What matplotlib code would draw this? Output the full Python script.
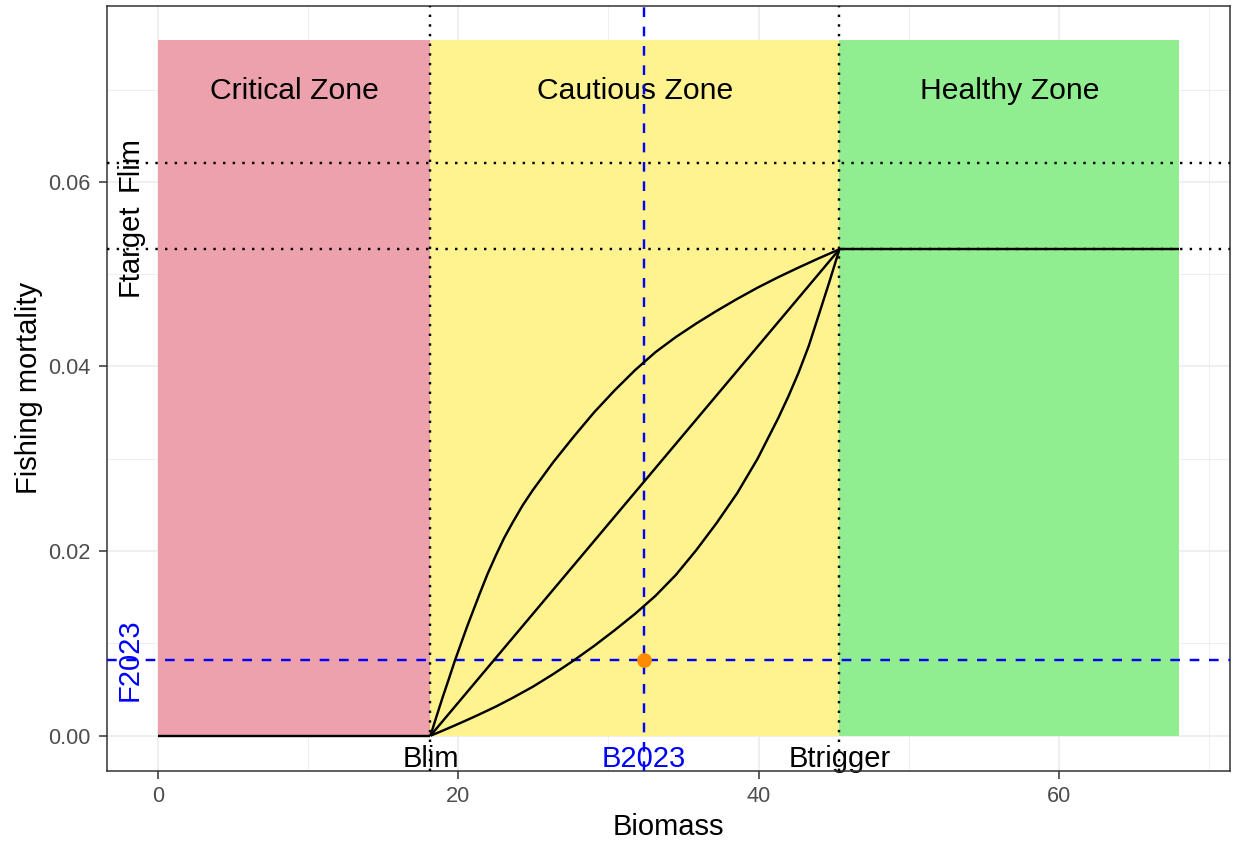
import matplotlib
matplotlib.use("Agg")
import matplotlib.pyplot as plt
from matplotlib.ticker import MultipleLocator, FormatStrFormatter

plt.rcParams['font.family'] = ['Liberation Sans', 'DejaVu Sans']

# Reference points
blim = 18.15
btrigger = 45.38
bmax = 68.0
flim = 0.0620
ftarget = 0.0527
b2023 = 32.36
f2023 = 0.00823
zone_top = 0.07534

# Stock status zones
zone_names = ["Critical Zone", "Cautious Zone", "Healthy Zone"]
zone_edges = [0.0, blim, btrigger, bmax]
zone_colors = ["#EDA1AC", "#FFF38F", "#90EE90"]

# Harvest control rules
flat_low_b = [0.0, blim]
flat_low_f = [0.0, 0.0]
flat_high_b = [btrigger, bmax]
flat_high_f = [ftarget, ftarget]
linear_b = [blim, btrigger]
linear_f = [0.0, ftarget]
concave_b = [18.15, 18.56, 18.97, 19.38, 19.78, 20.60, 21.42, 21.96, 22.51, 23.05,
             23.60, 24.28, 24.96, 26.32, 27.68, 29.04, 30.40, 31.77, 33.13, 34.49,
             35.85, 37.21, 38.57, 39.93, 41.30, 42.66, 44.02, 45.38]
concave_f = [0.0, 0.00211, 0.00419, 0.00617, 0.00814, 0.01186, 0.01534, 0.01755, 0.01955, 0.02140,
             0.02303, 0.02493, 0.02659, 0.02962, 0.03238, 0.03502, 0.03739, 0.03960, 0.04155, 0.04319,
             0.04466, 0.04603, 0.04732, 0.04854, 0.04967, 0.05072, 0.05173, 0.0527]
convex_b = [18.15, 18.97, 19.78, 20.60, 21.42, 22.51, 23.60, 24.96, 26.32, 27.68,
            29.04, 30.40, 31.77, 33.13, 34.49, 35.85, 37.21, 38.57, 39.93, 41.30,
            41.98, 42.66, 43.34, 44.02, 44.70, 45.38]
convex_f = [0.0, 0.00055, 0.00112, 0.00171, 0.00232, 0.00316, 0.00408, 0.00530, 0.00667, 0.00814,
            0.00972, 0.01141, 0.01320, 0.01515, 0.01742, 0.02011, 0.02306, 0.02627, 0.03001, 0.03439,
            0.03676, 0.03934, 0.04224, 0.04567, 0.04912, 0.0527]

W, H = 1235, 843
fig = plt.figure(figsize=(W / 100, H / 100), dpi=100)
left, right, top, bottom = 106.7, 1230.3, 5.5, 770.5
ax = fig.add_axes([left / W, 1 - bottom / H, (right - left) / W, (bottom - top) / H])

ax.set_xlim(-0.05 * bmax, bmax * 1.05)
ax.set_ylim(-0.05 * zone_top, zone_top * 1.05)

# background grid
ax.set_axisbelow(True)
ax.xaxis.set_major_locator(MultipleLocator(20))
ax.xaxis.set_minor_locator(MultipleLocator(10))
ax.yaxis.set_major_locator(MultipleLocator(0.02))
ax.yaxis.set_minor_locator(MultipleLocator(0.01))
ax.yaxis.set_major_formatter(FormatStrFormatter('%.2f'))
ax.grid(which='major', color='#EBEBEB', lw=1.1)
ax.grid(which='minor', color='#EBEBEB', lw=0.55)

# zones
for i, name in enumerate(zone_names):
    x0, x1 = zone_edges[i], zone_edges[i + 1]
    ax.bar(x0, zone_top, width=x1 - x0, align='edge', color=zone_colors[i],
           linewidth=0, zorder=1)
    ax.text((x0 + x1) / 2, 0.06903, name, ha='center', va='baseline',
            fontsize=21.7, color='black', zorder=2)

# reference labels
lab_size = 21
lab_y = -0.00336
ax.text(blim, lab_y, "Blim", ha='center', va='baseline', fontsize=lab_size, zorder=2)
ax.text(btrigger, lab_y, "Btrigger", ha='center', va='baseline', fontsize=lab_size, zorder=2)
ax.text(b2023, lab_y, "B2023", ha='center', va='baseline', fontsize=lab_size,
        color='#0000FF', zorder=2)
lab_x = -1.33
for yv, txt, col in [(flim, "Flim", 'black'), (ftarget, "Ftarget", 'black'),
                     (f2023, "F2023", '#0000FF')]:
    ax.text(lab_x, yv, txt, rotation=90, rotation_mode='anchor', ha='center',
            va='baseline', fontsize=lab_size, color=col, zorder=2)

# reference lines
lw = 1.74
for xv in [blim, btrigger]:
    ax.axvline(xv, color='black', lw=lw, ls=(0, (1, 3)), zorder=3)
for yv in [flim, ftarget]:
    ax.axhline(yv, color='black', lw=lw, ls=(0, (1, 3)), zorder=3)
ax.axvline(b2023, color='#0000FF', lw=lw, ls=(0, (4, 4)), zorder=3)
ax.axhline(f2023, color='#0000FF', lw=lw, ls=(0, (4, 4)), zorder=3)

# control rules
for bx, fy in [(flat_low_b, flat_low_f), (flat_high_b, flat_high_f),
               (linear_b, linear_f), (concave_b, concave_f), (convex_b, convex_f)]:
    ax.plot(bx, fy, color='black', lw=lw, solid_capstyle='butt',
            solid_joinstyle='round', zorder=4)

ax.plot([b2023], [f2023], 'o', color='#FF8C00', markersize=10.6,
        markeredgewidth=0, zorder=5)

# axes styling
for sp in ax.spines.values():
    sp.set_color('#333333')
    sp.set_linewidth(1.1)
ax.tick_params(which='major', length=6, width=1.1, color='#333333',
               labelcolor='#4D4D4D', labelsize=15.7, pad=5.5)
ax.tick_params(which='minor', length=0)

ax.set_xlabel("Biomass", fontsize=21, color='black')
ax.set_ylabel("Fishing mortality", fontsize=21, color='black')
ax.xaxis.set_label_coords(0.5, -(835 - bottom) / (bottom - top))
ax.xaxis.label.set_va('baseline')
ax.yaxis.set_label_coords(-(left - 37) / (right - left), 0.5)
ax.yaxis.label.set_va('baseline')

fig.savefig("out.png", dpi=100)
